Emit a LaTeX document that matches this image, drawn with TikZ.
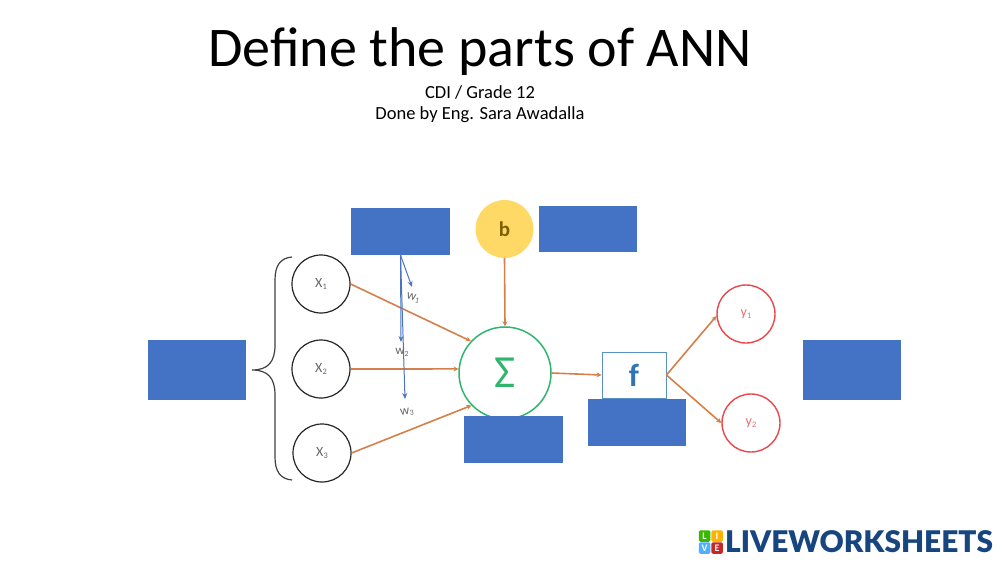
\documentclass[tikz,border=0pt]{standalone}
\usepackage{fontspec}
\setmainfont{Carlito}
\newfontfamily\logofont{Lato Black}
\usetikzlibrary{arrows.meta}
\definecolor{boxblue}{HTML}{4472C4}
\definecolor{flow}{HTML}{D5804A}
\definecolor{wblue}{HTML}{4A75BE}
\definecolor{sumgreen}{HTML}{2FB56E}
\definecolor{outred}{HTML}{E8474C}
\definecolor{logoblue}{HTML}{17457F}
\definecolor{biasfill}{HTML}{FFD966}
\definecolor{biastext}{HTML}{7F6000}
\definecolor{fblue}{HTML}{2E75B6}
\newcommand{\lowidx}[1]{\raisebox{-0.15em}{\scalebox{0.6}{#1}}}
\tikzset{
  blank/.style={fill=boxblue,draw=none,minimum width=#1,inner sep=0pt},
  inp/.style={circle,draw=black!85,line width=1.2pt,minimum size=58pt,inner sep=0pt,text=black!60,font=\fontsize{14}{14}\selectfont},
  outp/.style={circle,draw=outred,line width=1.4pt,minimum size=58pt,inner sep=0pt,text=outred!80,font=\fontsize{14}{14}\selectfont},
  flowline/.style={draw=flow,line width=1.6pt,-{Stealth[length=5pt,width=5pt]}},
  wline/.style={draw=wblue,line width=1pt,-{Stealth[length=6pt,width=5pt]}},
  wlab/.style={text=black!60,font=\fontsize{13}{13}\selectfont,inner sep=0pt},
  tile/.style={minimum size=11.5pt,inner sep=0pt,rounded corners=1.5pt,text=white,font=\bfseries\fontsize{10}{10}\selectfont},
}
\begin{document}
\begin{tikzpicture}[x=1pt,y=-1pt]
\useasboundingbox (0,0) rectangle (1000,562);
\fill[white] (0,0) rectangle (1000,562);
% titles
\node[inner sep=0pt] (title) at (480,51.5) {\fontsize{56}{56}\selectfont Define the parts of ANN};
\node[inner sep=0pt] (sub1) at (480,92) {\fontsize{18.5}{18.5}\selectfont CDI / Grade 12};
\node[inner sep=0pt] (sub2) at (480,115) {\fontsize{18.5}{18.5}\selectfont Done by Eng. Sara Awadalla};
% neurons
\node[inp] (x1) at (321,284) {X\lowidx{1}};
\node[inp] (x2) at (321,369) {X\lowidx{2}};
\node[inp] (x3) at (322,453) {X\lowidx{3}};
\node[circle,draw=sumgreen,line width=1.5pt,minimum size=92pt,inner sep=0pt,text=sumgreen,font=\fontsize{46}{46}\selectfont] (sum) at (505,373) {Σ};
\node[circle,fill=biasfill,minimum size=58pt,inner sep=0pt,text=biastext,font=\bfseries\fontsize{21}{21}\selectfont] (bias) at (504.5,229) {b};
\node[draw=fblue!80,line width=0.9pt,fill=white,minimum width=64pt,minimum height=46pt,inner sep=0pt,text=fblue,font=\bfseries\fontsize{32}{32}\selectfont] (act) at (634,375) {f};
\node[outp] (y1) at (746,314) {y\lowidx{1}};
\node[outp] (y2) at (751,423) {y\lowidx{2}};
% blanks
\node[blank=99pt,minimum height=47pt] (bw) at (400.5,231.5) {};
\node[blank=98pt,minimum height=46pt] (bb) at (588,229) {};
\node[blank=98pt,minimum height=60pt] (bi) at (197,370) {};
\node[blank=98pt,minimum height=60pt] (bo) at (852,370) {};
\node[blank=99pt,minimum height=47pt] (bs) at (513.5,439.5) {};
\node[blank=98pt,minimum height=47pt] (bf) at (637,422.5) {};
% flows
\draw[flowline] (x1.east) -- (sum.137);
\draw[flowline] (x2.east) -- (sum.175);
\draw[flowline] (x3.east) -- (sum.224);
\draw[flowline] (bias.south) -- (sum.north);
\draw[flowline] (sum.east) -- (act.west);
\draw[flowline] (act.east) -- (y1.184);
\draw[flowline] (act.east) -- (y2.west);
% weights
\coordinate (e1) at (412,287);
\coordinate (e2) at (401,342);
\coordinate (e3) at (405,399);
\draw[wline] (bw.south) -- (e1);
\draw[wline] (bw.south) -- (e2);
\draw[wline] (bw.south) -- (e3);
\node[wlab,rotate=-15] (w1) at (413,298) {w\lowidx{1}};
\node[wlab] (w2) at (402,352) {w\lowidx{2}};
\node[wlab,rotate=8] (w3) at (407,412) {w\lowidx{3}};
% brace
\coordinate (bt) at (292,257);
\coordinate (bm) at (252,370);
\coordinate (bl) at (292,480);
\draw[black!75,line width=1.2pt] (bt) .. controls (280,258) and (275,266) .. (275,280)
  -- (275,345) .. controls (275,362) and (268,370) .. (bm)
  .. controls (268,370) and (275,378) .. (275,395)
  -- (275,457) .. controls (275,471) and (280,479) .. (bl);
% logo
\node[tile,fill=green!60!black!70!lime] (tl) at (704.5,536) {L};
\node[tile,fill=orange!60!yellow] (ti) at (717,536) {I};
\node[tile,fill=blue!45!cyan!70] (tv) at (704.5,548) {V};
\node[tile,fill=red!75!black!85] (te) at (717,548) {E};
\node[inner sep=0pt,anchor=west,text=logoblue] (logo) at (725,542) {\logofont\fontsize{29.8}{29.8}\selectfont LIVEWORKSHEETS};
\end{tikzpicture}
\end{document}
